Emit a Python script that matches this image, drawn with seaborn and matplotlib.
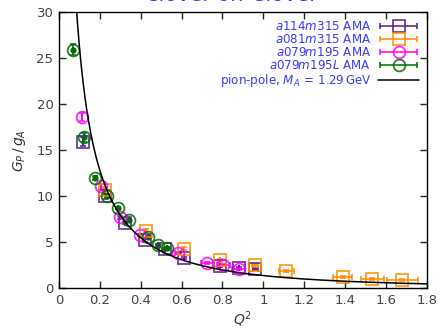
import numpy as np
import matplotlib
matplotlib.use("Agg")
import matplotlib.pyplot as plt
from matplotlib.legend_handler import HandlerErrorbar
import seaborn as sns

# a114m315 AMA
q2_a114 = [0.12, 0.227, 0.325, 0.423, 0.52, 0.613, 0.79, 0.879, 0.96]
gp_a114 = [15.9, 9.96, 7.07, 5.17, 4.2, 3.3, 2.35, 2.15, 2.05]
dq_a114 = [0.0, 0.0, 0.0, 0.0, 0.0, 0.0, 0.0, 0.0, 0.012]
dg_a114 = [0.5, 0.25, 0.15, 0.12, 0.1, 0.1, 0.1, 0.1, 0.1]

# a081m315 AMA
q2_a081 = [0.227, 0.428, 0.613, 0.79, 0.96, 1.112, 1.389, 1.534, 1.68]
gp_a081 = [10.7, 6.23, 4.27, 3.0, 2.45, 1.88, 1.19, 1.01, 0.9]
dq_a081 = [0.0, 0.0, 0.0, 0.0, 0.015, 0.037, 0.046, 0.057, 0.077]
dg_a081 = [0.3, 0.2, 0.15, 0.12, 0.12, 0.1, 0.1, 0.1, 0.1]

# a079m195 AMA
q2_a079 = [0.113, 0.208, 0.30, 0.395, 0.583, 0.724, 0.805, 0.879]
gp_a079 = [18.6, 11.04, 7.7, 5.8, 3.8, 2.75, 2.5, 2.1]
dq_a079 = [0.0, 0.0, 0.0, 0.0, 0.015, 0.03, 0.03, 0.03]
dg_a079 = [0.45, 0.25, 0.15, 0.12, 0.1, 0.1, 0.1, 0.1]

# a079m195L AMA
q2_a079L = [0.067, 0.121, 0.178, 0.235, 0.289, 0.341, 0.436, 0.483, 0.529]
gp_a079L = [25.9, 16.37, 11.96, 10.03, 8.7, 7.35, 5.5, 4.7, 4.35]
dq_a079L = [0.0] * 9
dg_a079L = [0.6, 0.45, 0.25, 0.2, 0.15, 0.15, 0.12, 0.1, 0.1]

# pion-pole model parameters (GeV)
M_N = 0.939
M_PI = 0.1396
M_A = 1.29

sns.set_style("ticks")
plt.rcParams['font.family'] = ['DejaVu Sans']
plt.rcParams['mathtext.fontset'] = 'dejavusans'

fig, ax = plt.subplots(figsize=(4.4, 3.28), dpi=100)
fig.subplots_adjust(left=0.134, right=0.970, top=0.963, bottom=0.122)

q = np.linspace(0.01, 1.8, 600)
pole = 4 * M_N**2 / (q + M_PI**2) / (1 + q / M_A**2) ** 2
sns.lineplot(x=q, y=pole, ax=ax, color='black', lw=1.1, zorder=5, legend=False)

series = [
    (q2_a114, gp_a114, dq_a114, dg_a114, 's', '#5a1f8c', r'$a114m315$ AMA'),
    (q2_a081, gp_a081, dq_a081, dg_a081, 's', '#ff8c00', r'$a081m315$ AMA'),
    (q2_a079, gp_a079, dq_a079, dg_a079, 'o', '#ff00ff', r'$a079m195$ AMA'),
    (q2_a079L, gp_a079L, dq_a079L, dg_a079L, 'o', '#007000', r'$a079m195L$ AMA'),
]
handles = []
for x, y, dx, dy, m, c, lab in series:
    style = dict(fmt=m, ms=8.5, mfc='none', mec=c, mew=1.3, color=c,
                 ecolor=c, elinewidth=1.3, capsize=2, alpha=0.85)
    ax.errorbar(x, y, xerr=dx, yerr=dy, zorder=4, **style)
    # legend sample (off-axes): marker with horizontal bar only
    handles.append(ax.errorbar([-1.0], [-1.0], xerr=[0.1], **style))
ax.scatter(q2_a079L, gp_a079L, s=12, color='#007000', marker='o', zorder=4)

line_handle = ax.get_lines()[0]
hmap = {h: HandlerErrorbar(xerr_size=1.55) for h in handles}
ax.legend(handles + [line_handle],
          [s[-1] for s in series] + [r'pion-pole, $M_A\,=\,1.29\,$GeV'],
          handler_map=hmap,
          loc='upper right', frameon=False, markerfirst=False,
          labelcolor='#3a3aff', fontsize=8.6, handlelength=3.4,
          borderaxespad=0.25, labelspacing=0.0, handletextpad=0.6)

ax.set_xlim(0, 1.8)
ax.set_ylim(0, 30)
ax.set_xticks(np.arange(0, 1.81, 0.2))
ax.set_xticklabels(['0', '0.2', '0.4', '0.6', '0.8', '1', '1.2', '1.4', '1.6', '1.8'])
ax.set_yticks(range(0, 31, 5))
ax.tick_params(direction='in', top=True, right=True, length=5, width=1,
               labelsize=9.5, labelcolor='#444444', pad=4)
for sp in ax.spines.values():
    sp.set_linewidth(1)
    sp.set_color('black')
ax.set_xlabel(r'$Q^2$', fontsize=10, color='#333333', labelpad=2)
ax.set_ylabel(r'$G_P\,/\,g_A$', fontsize=10, color='#333333', labelpad=6)

# title sits at the very top edge, as in the reference
fig.text(0.527, 0.985, 'Clover-on-Clover', color='#3a3aff', fontsize=15,
         ha='center', va='bottom')

fig.savefig('out.png', dpi=100)
